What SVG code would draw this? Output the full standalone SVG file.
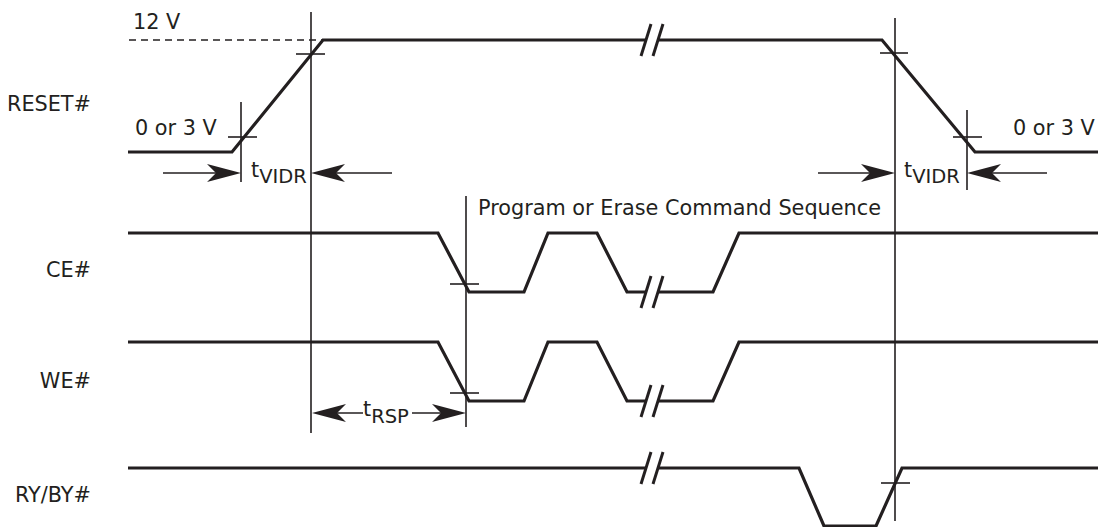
<svg xmlns="http://www.w3.org/2000/svg" xmlns:xlink="http://www.w3.org/1999/xlink" width="1098" height="527" viewBox="0 0 1098 527">
<style>
.sig{fill:none;stroke:#231f20;stroke-width:3.2;stroke-linejoin:miter}
.thin{fill:none;stroke:#231f20;stroke-width:1.6}
.dash{fill:none;stroke:#231f20;stroke-width:1.6;stroke-dasharray:7 5}
.brk{fill:none;stroke:#231f20;stroke-width:3}
.lbl{font-family:"DejaVu Sans",Verdana,sans-serif;font-size:20.8px;fill:#231f20}
.sub{font-size:19.5px}
.head{fill:#231f20}
</style>
<defs>
<path id="ah" class="head" d="M0,0 L-34,-9 L-25,0 L-34,9 Z"/>
<g id="brk"><line class="brk" x1="641" y1="16" x2="651" y2="-16"/><line class="brk" x1="653" y1="16" x2="663" y2="-16"/></g>
</defs>
<rect width="1098" height="527" fill="#fff"/>

<g id="labels">
<text class="lbl" x="91" y="111" text-anchor="end">RESET#</text>
<text class="lbl" x="91" y="277" text-anchor="end">CE#</text>
<text class="lbl" x="91" y="388" text-anchor="end">WE#</text>
<text class="lbl" x="91" y="502" text-anchor="end">RY/BY#</text>
</g>

<g id="reset">
<line class="dash" x1="129" y1="40" x2="323" y2="40"/>
<polyline class="sig" points="128,152 232,152 323,40 646,40"/>
<polyline class="sig" points="658,40 882,40 975,152 1098,152"/>
<use xlink:href="#brk" transform="translate(0,40)"/>
<text class="lbl" x="133" y="29">12 V</text>
<text class="lbl" x="135" y="135">0 or 3 V</text>
<text class="lbl" x="1013" y="135">0 or 3 V</text>
</g>

<g id="ce">
<polyline class="sig" points="128,233 438,233 469,292 524,292 548,233 597,233 627,292 646,292"/>
<polyline class="sig" points="658,292 713,292 739,233 1098,233"/>
<use xlink:href="#brk" transform="translate(0,292)"/>
<text class="lbl" x="478" y="215">Program or Erase Command Sequence</text>
</g>

<g id="we">
<polyline class="sig" points="128,342 438,342 469,401 524,401 548,342 597,342 627,401 646,401"/>
<polyline class="sig" points="658,401 713,401 739,342 1098,342"/>
<use xlink:href="#brk" transform="translate(0,401)"/>
</g>

<g id="ryby">
<polyline class="sig" points="128,468 646,468"/>
<polyline class="sig" points="658,468 799,468 824,526 876,526 902,468 1098,468"/>
<use xlink:href="#brk" transform="translate(0,468)"/>
</g>

<g id="connectors">
<line class="thin" x1="311" y1="12" x2="311" y2="433"/>
<line class="thin" x1="241" y1="102" x2="241" y2="182"/>
<line class="thin" x1="466" y1="196" x2="466" y2="427"/>
<line class="thin" x1="895" y1="18" x2="895" y2="521"/>
<line class="thin" x1="967" y1="110" x2="967" y2="190"/>
<line class="thin" x1="228" y1="137" x2="257" y2="137"/>
<line class="thin" x1="296" y1="54" x2="325" y2="54"/>
<line class="thin" x1="880" y1="53" x2="908" y2="53"/>
<line class="thin" x1="953" y1="137" x2="982" y2="137"/>
<line class="thin" x1="450" y1="284" x2="479" y2="284"/>
<line class="thin" x1="450" y1="393" x2="479" y2="393"/>
<line class="thin" x1="881" y1="483" x2="910" y2="483"/>
<line class="thin" x1="163" y1="173" x2="220" y2="173"/>
<use xlink:href="#ah" transform="translate(241,173)"/>
<use xlink:href="#ah" transform="translate(311,173) scale(-1,1)"/>
<line class="thin" x1="330" y1="173" x2="392" y2="173"/>
<line class="thin" x1="818" y1="173" x2="875" y2="173"/>
<use xlink:href="#ah" transform="translate(895,173)"/>
<use xlink:href="#ah" transform="translate(967,173) scale(-1,1)"/>
<line class="thin" x1="985" y1="173" x2="1047" y2="173"/>
<use xlink:href="#ah" transform="translate(312,413) scale(-1,1)"/>
<line class="thin" x1="330" y1="413" x2="363" y2="413"/>
<line class="thin" x1="412" y1="413" x2="448" y2="413"/>
<use xlink:href="#ah" transform="translate(466,413)"/>
</g>

<g id="timing-labels">
<text class="lbl" x="251" y="177">t<tspan class="sub" dy="6">VIDR</tspan></text>
<text class="lbl" x="904" y="177">t<tspan class="sub" dy="6">VIDR</tspan></text>
<text class="lbl" x="363" y="416">t<tspan class="sub" dy="7">RSP</tspan></text>
</g>
</svg>
